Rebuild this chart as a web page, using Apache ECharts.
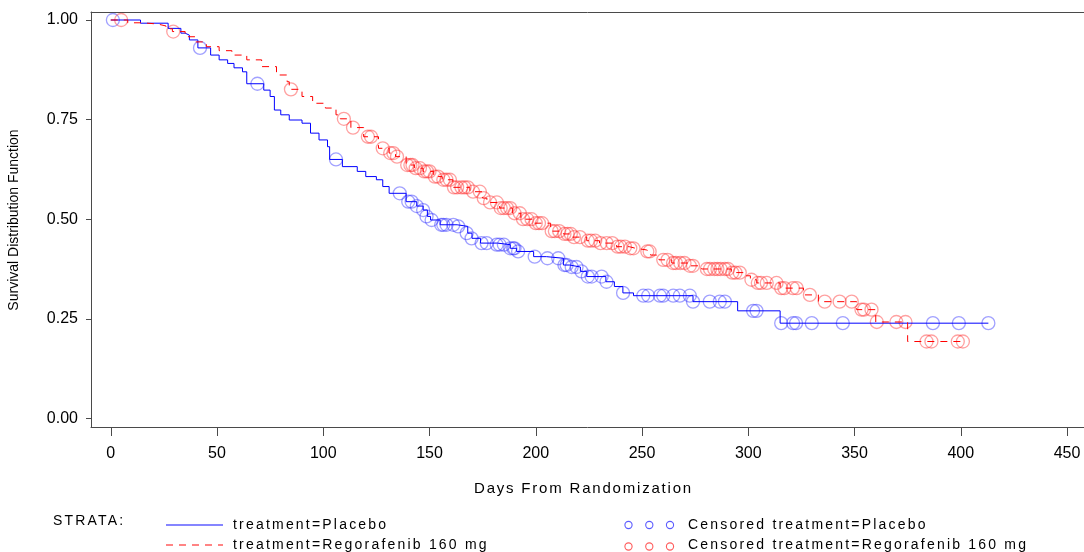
<!DOCTYPE html>
<html>
<head>
<meta charset="utf-8">
<script src="https://cdn.jsdelivr.net/npm/echarts@6/dist/echarts.min.js"></script>
<style>
html,body{margin:0;padding:0;background:#fff;}
#chart{width:1084px;height:552px;}
</style>
</head>
<body>
<div id="chart"></div>
<script>
// ---------------- data ----------------
const xTicks = [0, 50, 100, 150, 200, 250, 300, 350, 400, 450];
const yTicks = [0, 0.25, 0.5, 0.75, 1.0];

// Kaplan-Meier step points (time, survival after event)
const placeboTime = [0, 14, 27, 33, 35, 37, 41, 47, 51, 55, 58, 62, 64, 72, 75, 77, 80, 84, 90, 94, 98, 102, 103, 109, 116, 120, 125, 128, 131, 139, 144, 147, 149, 150.5, 155, 163, 168, 170, 174, 182, 188, 191, 199, 205, 213, 216, 221, 224, 233, 237, 241, 246, 274, 295, 315, 413];
const placeboSurv = [1.0, 0.992, 0.979, 0.967, 0.962, 0.95, 0.93, 0.912, 0.9, 0.891, 0.88, 0.87, 0.84, 0.824, 0.808, 0.774, 0.762, 0.749, 0.741, 0.716, 0.699, 0.682, 0.65, 0.632, 0.62, 0.607, 0.599, 0.582, 0.565, 0.544, 0.533, 0.523, 0.507, 0.498, 0.486, 0.482, 0.465, 0.452, 0.44, 0.436, 0.427, 0.419, 0.406, 0.402, 0.385, 0.38, 0.369, 0.356, 0.343, 0.331, 0.315, 0.308, 0.293, 0.27, 0.239, 0.239];

const regoTime = [0, 8, 15, 22, 26, 29, 35, 40, 45, 51, 57, 64, 71, 78, 83, 84, 90, 95, 101, 106, 108, 113, 119, 126, 131, 134, 139, 143, 147, 152, 156, 161, 169, 175, 177, 183, 189, 193, 199, 207, 213, 217, 224, 230, 238, 244, 247, 252, 254, 258, 264, 272, 278, 292, 298, 301, 304, 315, 326, 333, 351, 360, 375, 401];
const regoSurv = [1.0, 0.993, 0.99, 0.985, 0.978, 0.971, 0.958, 0.945, 0.933, 0.923, 0.912, 0.9, 0.883, 0.862, 0.845, 0.826, 0.808, 0.791, 0.779, 0.762, 0.752, 0.73, 0.707, 0.678, 0.666, 0.657, 0.636, 0.628, 0.62, 0.607, 0.599, 0.58, 0.569, 0.553, 0.542, 0.528, 0.515, 0.5, 0.49, 0.47, 0.463, 0.455, 0.446, 0.44, 0.431, 0.427, 0.423, 0.419, 0.41, 0.398, 0.39, 0.383, 0.375, 0.366, 0.358, 0.348, 0.34, 0.327, 0.31, 0.293, 0.273, 0.242, 0.193, 0.193];

// Censored observations
const placeboCensTime = [1, 42, 69, 106, 136, 140, 141.6, 144, 147, 148.6, 151, 155.5, 156.5, 158, 161.2, 163.5, 167.5, 169.8, 174.5, 176.9, 181.6, 183, 185, 188, 189.4, 190, 191.7, 199.5, 205.5, 210.6, 213.5, 214.5, 216.9, 219.2, 221.5, 224.5, 226.3, 231, 233.3, 241.1, 250.6, 252.9, 258.4, 260, 264.7, 267.8, 272.5, 274, 281.9, 286.6, 289, 302.3, 303.9, 315.5, 321.1, 322.5, 329.9, 344.5, 386.9, 399.1, 413];
const placeboCensSurv = [1.0, 0.93, 0.84, 0.65, 0.565, 0.544, 0.544, 0.533, 0.523, 0.507, 0.498, 0.486, 0.486, 0.486, 0.486, 0.482, 0.465, 0.452, 0.44, 0.44, 0.436, 0.436, 0.436, 0.427, 0.427, 0.427, 0.419, 0.406, 0.402, 0.402, 0.385, 0.385, 0.38, 0.38, 0.369, 0.356, 0.356, 0.356, 0.343, 0.315, 0.308, 0.308, 0.308, 0.308, 0.308, 0.308, 0.308, 0.293, 0.293, 0.293, 0.293, 0.27, 0.27, 0.239, 0.239, 0.239, 0.239, 0.239, 0.239, 0.239, 0.239];

const regoCensTime = [4.9, 29.4, 84.8, 109.7, 114, 121, 122.5, 128, 131.5, 133, 134.7, 139.5, 141, 142, 143.5, 145.5, 147.5, 148.8, 150, 152.5, 154, 156.5, 158, 159.6, 161.5, 163, 165, 166.5, 168, 170.5, 173.7, 175.5, 178.5, 181.7, 183.5, 185, 186.5, 188, 190, 192.5, 194, 196, 198, 200, 201.5, 203, 207.5, 209, 211, 213.5, 215, 216.5, 218, 220.8, 224.5, 226, 228, 230.5, 233.4, 236, 238.5, 240, 242, 244.5, 246, 252.5, 253.6, 260, 262, 264.6, 266, 268, 270, 272.5, 274, 280.5, 282, 284, 285.5, 287, 289, 290.5, 292.5, 294, 296, 301.5, 304.5, 306, 308.7, 313.3, 315.5, 317, 321, 322.8, 329, 336, 343, 348.7, 353.3, 354.5, 358, 360.5, 369.7, 374, 383.9, 386.2, 398.6, 401];
const regoCensSurv = [1.0, 0.971, 0.826, 0.752, 0.73, 0.707, 0.707, 0.678, 0.666, 0.666, 0.657, 0.636, 0.636, 0.636, 0.628, 0.628, 0.62, 0.62, 0.62, 0.607, 0.607, 0.599, 0.599, 0.599, 0.58, 0.58, 0.58, 0.58, 0.58, 0.569, 0.569, 0.553, 0.542, 0.542, 0.528, 0.528, 0.528, 0.528, 0.515, 0.515, 0.5, 0.5, 0.5, 0.49, 0.49, 0.49, 0.47, 0.47, 0.47, 0.463, 0.463, 0.463, 0.455, 0.455, 0.446, 0.446, 0.446, 0.44, 0.44, 0.44, 0.431, 0.431, 0.431, 0.427, 0.427, 0.419, 0.419, 0.398, 0.398, 0.39, 0.39, 0.39, 0.39, 0.383, 0.383, 0.375, 0.375, 0.375, 0.375, 0.375, 0.375, 0.375, 0.366, 0.366, 0.366, 0.348, 0.34, 0.34, 0.34, 0.34, 0.327, 0.327, 0.327, 0.327, 0.31, 0.293, 0.293, 0.293, 0.273, 0.273, 0.273, 0.242, 0.242, 0.242, 0.193, 0.193, 0.193, 0.193];

const legendStrata = 'STRATA:';
const legendLines = ['treatment=Placebo', 'treatment=Regorafenib 160 mg'];
const legendCens = ['Censored treatment=Placebo', 'Censored treatment=Regorafenib 160 mg'];
const xName = 'Days From Randomization';
const yName = 'Survival Distribution Function';

// ---------------- letter spacing for SAS-like spaced texts ----------------
const SPACING = {};
SPACING[legendStrata] = 2.2;
legendLines.forEach(t => SPACING[t] = 2.2);
legendCens.forEach(t => SPACING[t] = 2.2);
SPACING[xName] = 1.8;
(function () {
  const proto = CanvasRenderingContext2D.prototype;
  const orig = proto.fillText;
  proto.fillText = function (t) {
    if (!('letterSpacing' in this)) return orig.apply(this, arguments);
    const sp = SPACING[t];
    this.letterSpacing = (sp !== undefined ? sp : 0) + 'px';
    const r = orig.apply(this, arguments);
    this.letterSpacing = '0px';
    return r;
  };
})();

// ---------------- chart ----------------
const zip = (a, b) => a.map((v, i) => [v, b[i]]);
const FONT = '"Liberation Sans", Arial, sans-serif';
const AXIS_COLOR = '#4a4a4a';

const chart = echarts.init(document.getElementById('chart'), null, {renderer: 'canvas'});

const option = {
  animation: false,
  backgroundColor: '#fff',
  grid: {left: 91, right: 0, top: 12, bottom: 125, containLabel: false},
  xAxis: [
    {
      type: 'value', min: -9.3, max: 458, position: 'bottom',
      axisLine: {show: true, onZero: false, lineStyle: {color: AXIS_COLOR, width: 1}},
      axisTick: {show: true, length: 9, customValues: xTicks, lineStyle: {color: AXIS_COLOR}},
      axisLabel: {show: true, customValues: xTicks, margin: 19, fontSize: 16, color: '#000', fontFamily: FONT},
      splitLine: {show: false}
    },
    {
      type: 'value', min: -9.3, max: 458, position: 'top',
      axisLine: {show: true, onZero: false, lineStyle: {color: AXIS_COLOR, width: 1}},
      axisTick: {show: false}, axisLabel: {show: false}, splitLine: {show: false}
    }
  ],
  yAxis: {
    type: 'value', min: -0.0216, max: 1.0201, position: 'left',
    axisLine: {show: true, onZero: false, lineStyle: {color: AXIS_COLOR, width: 1}},
    axisTick: {show: true, length: 5, customValues: yTicks, lineStyle: {color: AXIS_COLOR}},
    axisLabel: {show: true, customValues: yTicks, margin: 13, fontSize: 16, color: '#000', fontFamily: FONT,
      formatter: v => Number(v).toFixed(2)},
    splitLine: {show: false}
  },
  series: [
    {
      name: legendCens[0], type: 'scatter', symbol: 'circle', symbolSize: 13,
      data: zip(placeboCensTime, placeboCensSurv),
      itemStyle: {color: 'rgba(0,0,0,0)', borderColor: 'rgba(40,40,255,0.55)', borderWidth: 1.3},
      silent: true, z: 2
    },
    {
      name: legendCens[1], type: 'scatter', symbol: 'circle', symbolSize: 13,
      data: zip(regoCensTime, regoCensSurv),
      itemStyle: {color: 'rgba(0,0,0,0)', borderColor: 'rgba(255,40,40,0.55)', borderWidth: 1.3},
      silent: true, z: 2
    },
    {
      name: legendLines[0], type: 'line', step: 'end', showSymbol: false,
      data: zip(placeboTime, placeboSurv),
      lineStyle: {color: '#0000ff', width: 1}, silent: true, z: 3
    },
    {
      name: legendLines[1], type: 'line', step: 'end', showSymbol: false,
      data: zip(regoTime, regoSurv),
      lineStyle: {color: '#ff0000', width: 1, type: [7, 6]}, silent: true, z: 3
    }
  ],
  graphic: [
    {type: 'text', x: 14.5, y: 220, rotation: Math.PI / 2,
      style: {text: yName, font: '14px ' + FONT, fill: '#000', align: 'center', verticalAlign: 'middle'}},
    {type: 'text', x: 474, y: 489,
      style: {text: xName, font: '15px ' + FONT, fill: '#000', align: 'left', verticalAlign: 'middle'}},
    {type: 'text', x: 53, y: 521,
      style: {text: legendStrata, font: '14px ' + FONT, fill: '#000', align: 'left', verticalAlign: 'middle'}},
    {type: 'line', shape: {x1: 166, y1: 525, x2: 223, y2: 525},
      style: {stroke: '#5c5cff', lineWidth: 1.3}},
    {type: 'text', x: 233, y: 525,
      style: {text: legendLines[0], font: '14px ' + FONT, fill: '#000', align: 'left', verticalAlign: 'middle'}},
    {type: 'line', shape: {x1: 166, y1: 545, x2: 223, y2: 545},
      style: {stroke: '#ff5c5c', lineWidth: 1.3, lineDash: [7, 6]}},
    {type: 'text', x: 233, y: 545.5,
      style: {text: legendLines[1], font: '14px ' + FONT, fill: '#000', align: 'left', verticalAlign: 'middle'}},
    {type: 'circle', shape: {cx: 628.5, cy: 525, r: 3.6}, style: {fill: 'none', stroke: '#5c5cff', lineWidth: 1.1}},
    {type: 'circle', shape: {cx: 649.3, cy: 525, r: 3.6}, style: {fill: 'none', stroke: '#5c5cff', lineWidth: 1.1}},
    {type: 'circle', shape: {cx: 670, cy: 525, r: 3.6}, style: {fill: 'none', stroke: '#5c5cff', lineWidth: 1.1}},
    {type: 'text', x: 688, y: 525,
      style: {text: legendCens[0], font: '14px ' + FONT, fill: '#000', align: 'left', verticalAlign: 'middle'}},
    {type: 'circle', shape: {cx: 628.5, cy: 546.5, r: 3.6}, style: {fill: 'none', stroke: '#ff5c5c', lineWidth: 1.1}},
    {type: 'circle', shape: {cx: 649.3, cy: 546.5, r: 3.6}, style: {fill: 'none', stroke: '#ff5c5c', lineWidth: 1.1}},
    {type: 'circle', shape: {cx: 670, cy: 546.5, r: 3.6}, style: {fill: 'none', stroke: '#ff5c5c', lineWidth: 1.1}},
    {type: 'text', x: 688, y: 545.5,
      style: {text: legendCens[1], font: '14px ' + FONT, fill: '#000', align: 'left', verticalAlign: 'middle'}}
  ]
};
chart.setOption(option);
</script>
</body>
</html>
